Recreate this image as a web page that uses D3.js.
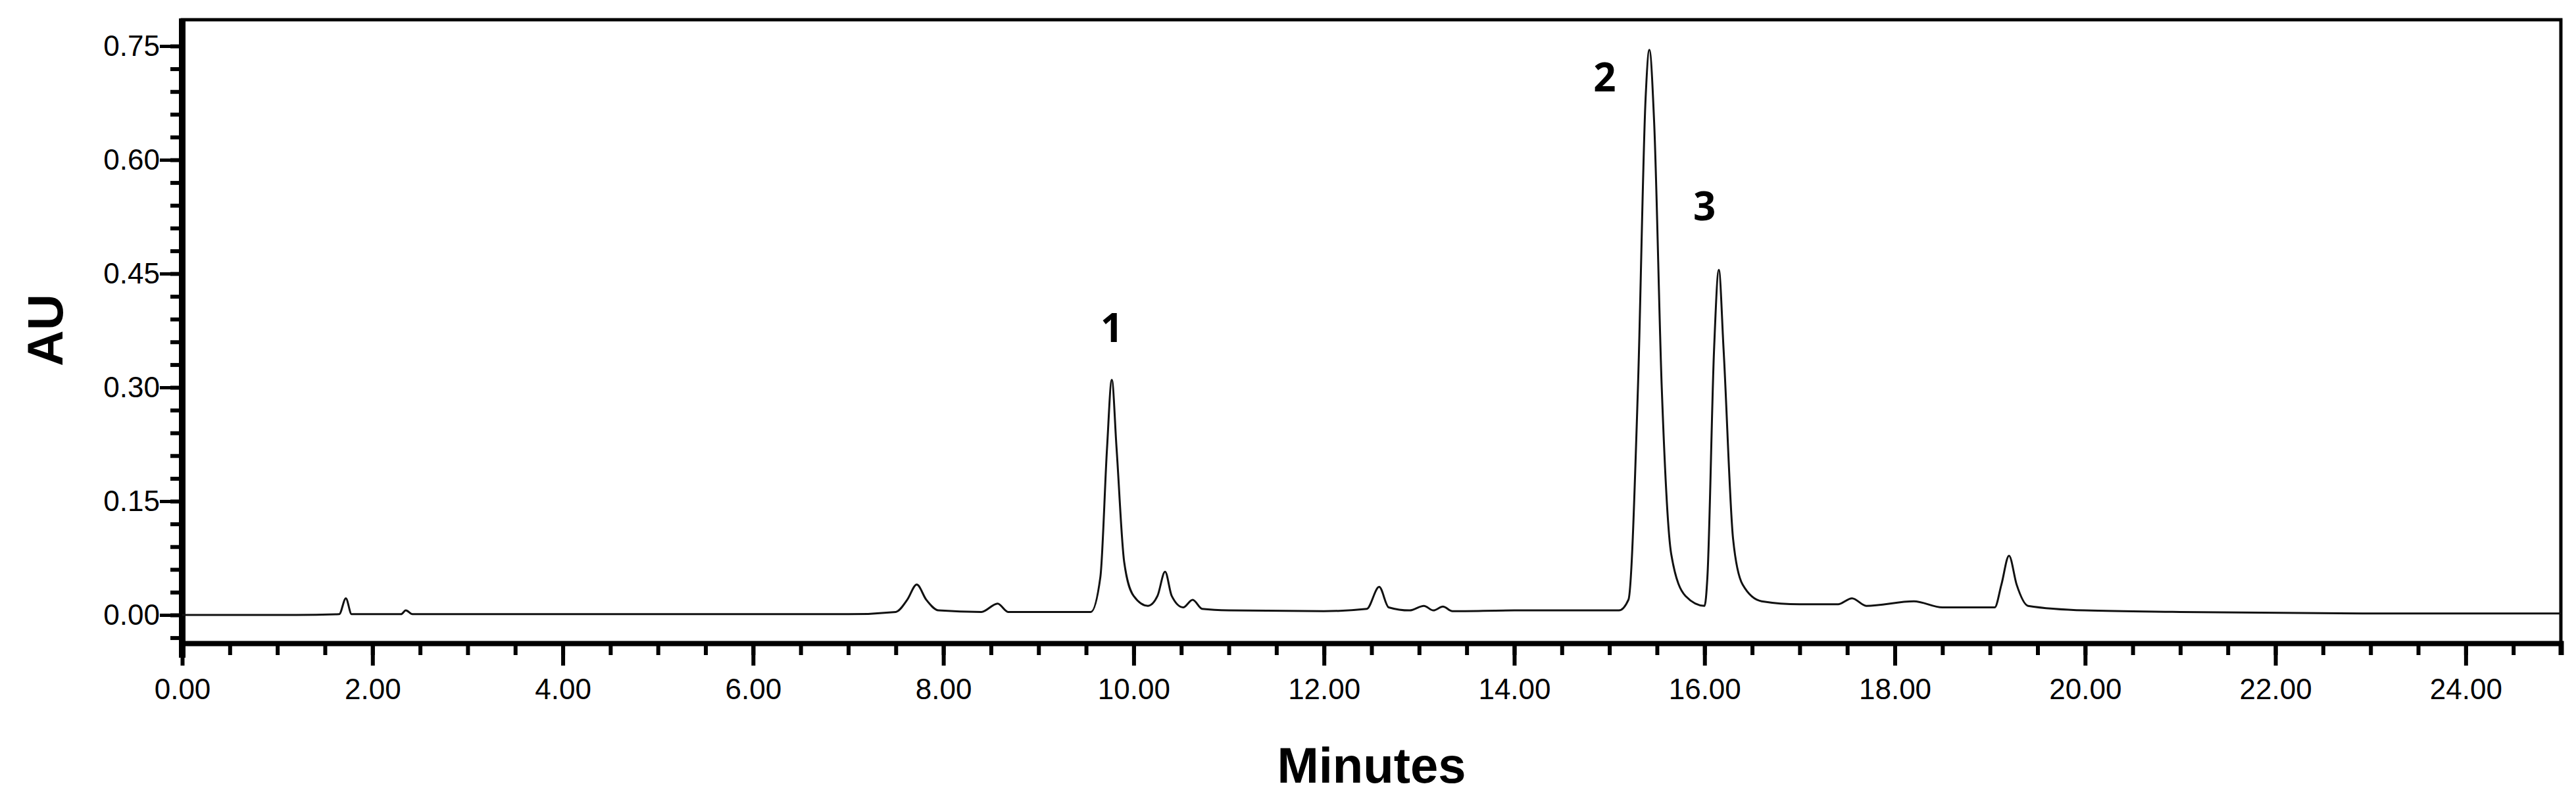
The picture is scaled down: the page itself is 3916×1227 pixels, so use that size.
<!DOCTYPE html>
<html>
<head>
<meta charset="utf-8">
<script src="https://cdn.jsdelivr.net/npm/d3@7"></script>
<style>
  body { margin: 0; background: #fff; }
  text { font-family: "Liberation Sans", Arial, sans-serif; }
</style>
</head>
<body>
<svg id="chart" width="3916" height="1227"></svg>
<script>
// chromatogram trace (minutes, AU)
const traceTime = [0, 1.2, 1.65, 1.72, 1.78, 2.3, 2.35, 2.42, 7.0, 7.5, 7.62, 7.72, 7.82, 7.95,
  8.4, 8.57, 8.68, 9.55, 9.65, 9.72, 9.77, 9.82, 9.9, 10.0, 10.15, 10.25, 10.33, 10.4, 10.52,
  10.62, 10.72, 11, 12, 12.45, 12.58, 12.68, 12.9, 13.05, 13.15, 13.25, 13.35, 14, 15.1, 15.2,
  15.3, 15.38, 15.42, 15.47, 15.55, 15.65, 15.8, 16.0, 16.03, 16.1, 16.15, 16.2, 16.3, 16.4,
  16.6, 17.0, 17.4, 17.55, 17.7, 18.2, 18.5, 19.05, 19.12, 19.2, 19.28, 19.4, 20, 21, 23, 25];
const traceAU = [0, 0, 0.001, 0.022, 0.001, 0.001, 0.006, 0.001, 0.001, 0.004, 0.02, 0.04, 0.02, 0.006,
  0.004, 0.015, 0.004, 0.004, 0.05, 0.22, 0.31, 0.22, 0.07, 0.025, 0.012, 0.025, 0.057, 0.025, 0.01,
  0.02, 0.008, 0.006, 0.005, 0.008, 0.037, 0.01, 0.006, 0.012, 0.006, 0.011, 0.005, 0.006, 0.006, 0.02,
  0.3, 0.68, 0.745, 0.65, 0.3, 0.08, 0.025, 0.012, 0.05, 0.35, 0.455, 0.35, 0.1, 0.04,
  0.018, 0.014, 0.014, 0.022, 0.012, 0.018, 0.01, 0.01, 0.04, 0.078, 0.04, 0.012, 0.006, 0.004, 0.002, 0.002];

const peakLabels = ["1", "2", "3"];
const peakLabelTime = [9.77, 14.95, 16.0];
const peakLabelAU = [0.36, 0.69, 0.52];

const xMajor = d3.range(0, 25, 2);
const yMajor = [0, 0.15, 0.30, 0.45, 0.60, 0.75];

const svg = d3.select("#chart");
const plotLeft = 277, plotRight = 3893, plotTop = 30, plotBottom = 978;

const x = d3.scaleLinear().domain([0, 25]).range([plotLeft, plotRight]);
const y = d3.scaleLinear().domain([0, 0.75]).range([935, 70]);

// frame
svg.append("rect")
  .attr("x", plotLeft).attr("y", plotTop)
  .attr("width", plotRight - plotLeft).attr("height", plotBottom - plotTop)
  .attr("fill", "none").attr("stroke", "#000").attr("stroke-width", 5);

// x axis
const xAxis = svg.append("g").attr("transform", `translate(0,${plotBottom})`);
xAxis.call(d3.axisBottom(x).tickValues(d3.range(0, 25.01, 0.5)).tickSize(18).tickFormat(""))
  .call(g => g.select(".domain").attr("stroke-width", 8))
  .call(g => g.selectAll(".tick line").attr("stroke-width", 6));
xAxis.append("g")
  .call(d3.axisBottom(x).tickValues(xMajor).tickSize(34).tickFormat(d3.format(".2f")))
  .call(g => g.select(".domain").remove())
  .call(g => g.selectAll(".tick line").attr("stroke-width", 6))
  .call(g => g.selectAll(".tick text").attr("font-size", 44).attr("dy", "1.1em").attr("fill", "#000")
    .style("font-family", "'Liberation Sans', Arial, sans-serif"));

// y axis
const yAxis = svg.append("g").attr("transform", `translate(${plotLeft},0)`);
yAxis.call(d3.axisLeft(y).tickValues(d3.range(-0.03, 0.751, 0.03)).tickSize(18).tickFormat(""))
  .call(g => g.select(".domain").remove())
  .call(g => g.selectAll(".tick line").attr("stroke-width", 6));
yAxis.append("g")
  .call(d3.axisLeft(y).tickValues(yMajor).tickSize(34).tickFormat(d3.format(".2f")))
  .call(g => g.select(".domain").remove())
  .call(g => g.selectAll(".tick line").attr("stroke-width", 5))
  .call(g => g.selectAll(".tick text").attr("font-size", 44).attr("x", -34).attr("fill", "#000")
    .style("font-family", "'Liberation Sans', Arial, sans-serif"));
svg.append("line").attr("x1", plotLeft).attr("x2", plotLeft).attr("y1", plotTop - 2).attr("y2", plotBottom + 22)
  .attr("stroke", "#000").attr("stroke-width", 10);

// trace
const pts = traceTime.map((t, i) => [t, traceAU[i]]);
svg.append("path")
  .datum(pts)
  .attr("fill", "none").attr("stroke", "#111").attr("stroke-width", 3)
  .attr("d", d3.line().x(d => x(d[0])).y(d => y(d[1])).curve(d3.curveMonotoneX));

// peak labels
svg.selectAll(".peak")
  .data(peakLabels)
  .join("text")
  .attr("x", (d, i) => x(peakLabelTime[i]))
  .attr("y", (d, i) => y(peakLabelAU[i]))
  .attr("text-anchor", "middle")
  .attr("font-size", 60).attr("font-weight", "bold")
  .style("font-family", "'Open Sans', 'DejaVu Sans', sans-serif")
  .text(d => d);

// axis titles
svg.append("text").attr("x", (plotLeft + plotRight) / 2).attr("y", 1190)
  .attr("text-anchor", "middle").attr("font-size", 76).attr("font-weight", "bold")
  .text("Minutes");
svg.append("text").attr("transform", "translate(95,502) rotate(-90)")
  .attr("text-anchor", "middle").attr("font-size", 76).attr("font-weight", "bold")
  .text("AU");
</script>
</body>
</html>
